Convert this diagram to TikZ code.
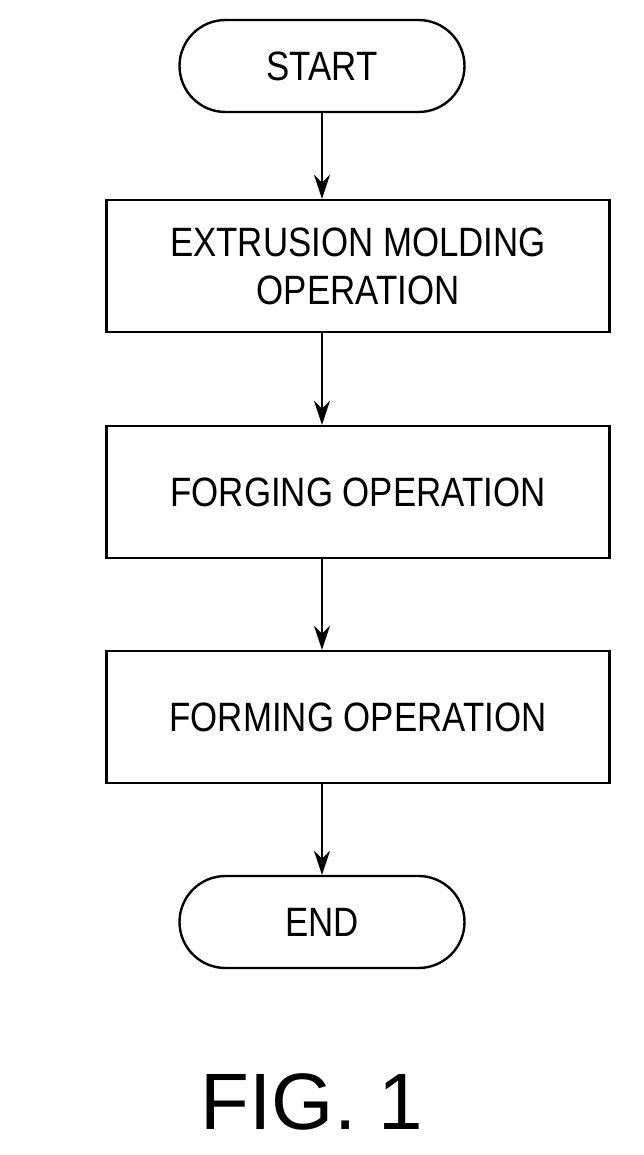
\documentclass[tikz,border=0pt]{standalone}
\usepackage{fontspec}
\setmainfont{Liberation Sans}
\newfontfamily\narrowfont[FakeStretch=0.85]{Liberation Sans}
\usetikzlibrary{positioning,arrows.meta}
\tikzset{
  opbox/.style={draw, line width=2.4pt, minimum width=503pt, minimum height=132pt, align=center, font=\narrowfont\fontsize{41}{48}\selectfont},
  term/.style={draw, line width=2.4pt, rounded corners=46pt, minimum width=285pt, minimum height=92pt, font=\narrowfont\fontsize{41}{48}\selectfont},
  flow/.style={-{Stealth[length=24pt,width=16pt]}, line width=1.8pt}
}
\begin{document}
\begin{tikzpicture}[x=1pt,y=-1pt]
    \useasboundingbox (0,0) rectangle (644,1155);
    % Terminals and steps
    \node[term] (start) at (322,66) {START};
    \node[opbox] (extrude) at (358,266) {EXTRUSION MOLDING\\OPERATION};
    \node[opbox] (forge) at (358,492) {FORGING OPERATION};
    \node[opbox] (form) at (358,717) {FORMING OPERATION};
    \node[term] (stop) at (322,922) {END};

    % Arrows
    \draw[flow] (start.south) -- (start.south |- extrude.north);
    \draw[flow] (extrude.south -| start.south) -- (start.south |- forge.north);
    \draw[flow] (forge.south -| start.south) -- (start.south |- form.north);
    \draw[flow] (form.south -| start.south) -- (stop.north);

    % Caption
    \node[font=\fontsize{80}{90}\selectfont] (caption) at (312,1102) {FIG. 1};
\end{tikzpicture}
\end{document}
